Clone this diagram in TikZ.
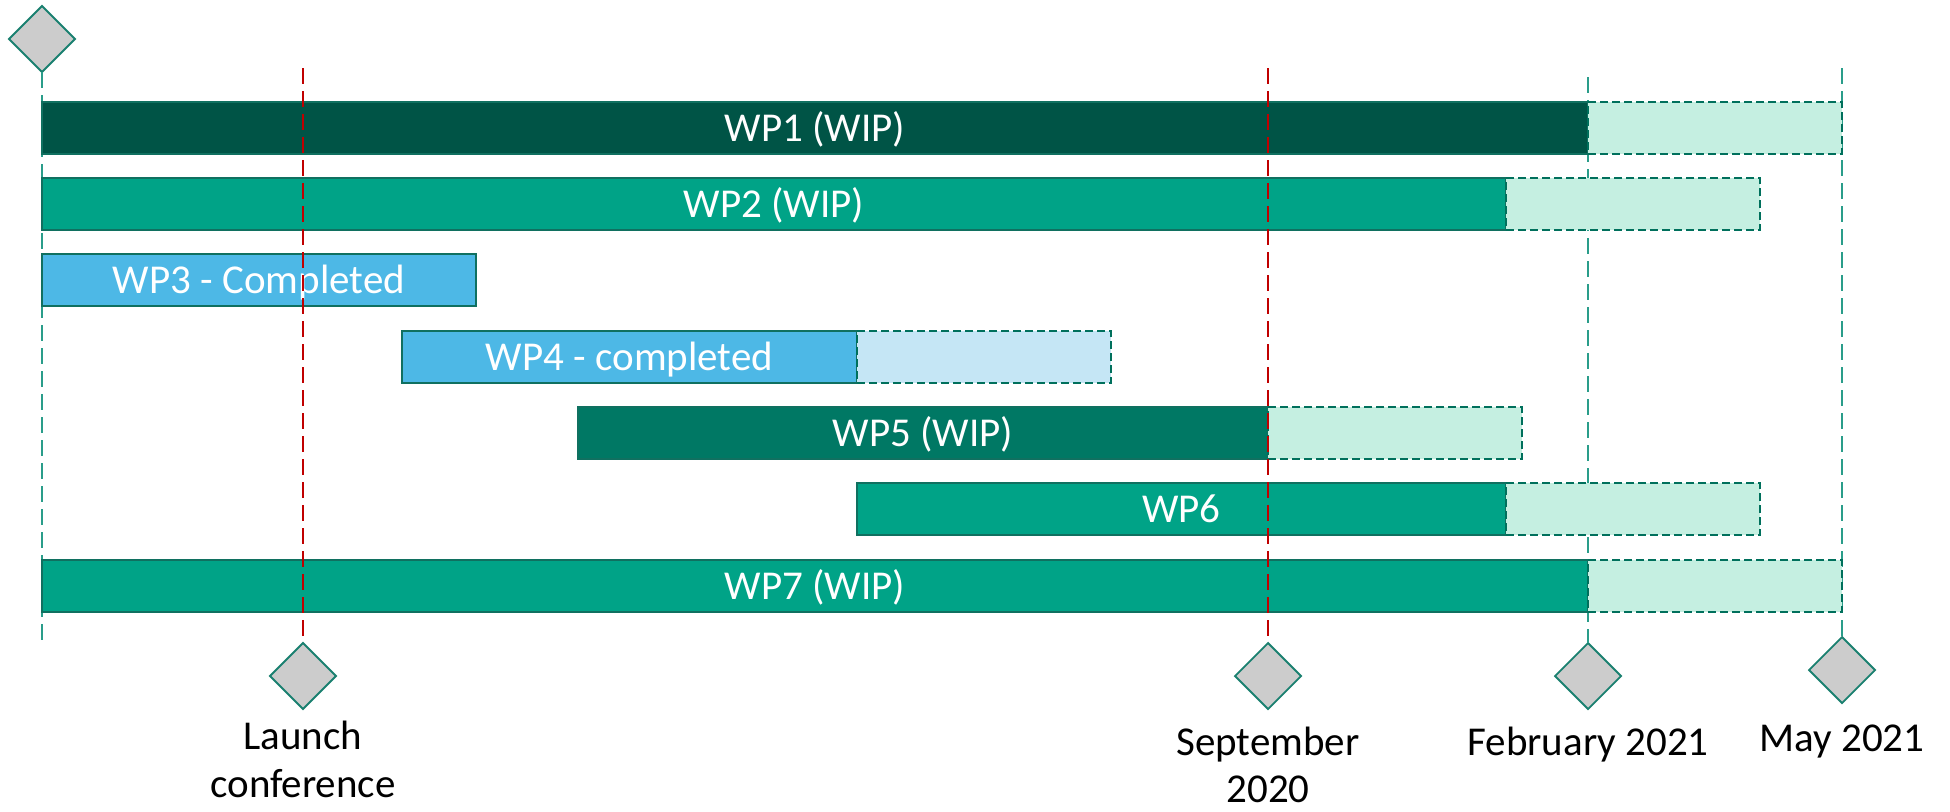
\documentclass[tikz,border=0pt]{standalone}
\usepackage{fontspec}
\setmainfont{Carlito}
\usetikzlibrary{shapes.geometric}
\definecolor{wpdark}{RGB}{0,84,70}
\definecolor{wpmid}{RGB}{0,120,100}
\definecolor{wpgreen}{RGB}{0,163,135}
\definecolor{wpblue}{RGB}{77,184,230}
\definecolor{extgreen}{RGB}{197,239,225}
\definecolor{extblue}{RGB}{197,230,245}
\definecolor{barline}{RGB}{16,112,96}
\definecolor{extline}{RGB}{0,112,92}
\definecolor{msgray}{RGB}{204,204,204}
\definecolor{msline}{RGB}{26,128,112}
\definecolor{redc}{RGB}{192,0,0}
\definecolor{tealc}{RGB}{42,157,138}
\begin{document}
\begin{tikzpicture}[x=1pt,y=-1pt,
  solidbar/.style={draw=barline, line width=1.5pt, anchor=north west, minimum height=52pt, inner sep=0pt, outer sep=0pt},
  extbar/.style={draw=extline, dash pattern=on 8pt off 4pt, line width=2.2pt, fill=extgreen, anchor=north west, minimum height=52pt, inner sep=0pt, outer sep=0pt},
  milestone/.style={diamond, draw=msline, fill=msgray, line width=1.8pt, minimum width=66pt, minimum height=66pt, inner sep=0pt, outer sep=0pt},
  barlabel/.style={text=white, font=\fontsize{41}{48}\selectfont, text height=27pt, text depth=0pt, inner sep=0pt},
  mslabel/.style={font=\fontsize{41}{48}\selectfont, anchor=base, inner sep=0pt},
  redline/.style={draw=redc, line width=2pt, dash pattern=on 16pt off 7pt},
  tealline/.style={draw=tealc, line width=2pt, dash pattern=on 16pt off 7pt}]
\useasboundingbox (0,0) rectangle (1950,811);

% milestones
\node[milestone] (start) at (42,39) {};
\node[milestone] (launch) at (303,676) {};
\node[milestone] (sept) at (1268,676) {};
\node[milestone] (feb) at (1588,676) {};
\node[milestone] (may) at (1842,670) {};

\coordinate (startend) at (42,640);
\coordinate (launchtop) at (303,68);
\coordinate (septtop) at (1268,68);
\coordinate (febtop) at (1588,77);
\coordinate (maytop) at (1842,68);

% teal lines (behind bars)
\draw[tealline] (start.south) -- (startend);
\draw[tealline] (febtop) -- (feb.north);
\draw[tealline] (maytop) -- (may.north);

% bars
\node[solidbar, fill=wpdark, minimum width=1546pt] (wp1) at (42,102) {};
\node[extbar, minimum width=254pt] (wp1x) at (1588,102) {};
\node[barlabel] (wp1l) at (wp1.center) {WP1 (WIP)};

\node[solidbar, fill=wpgreen, minimum width=1464pt] (wp2) at (42,178) {};
\node[extbar, minimum width=254pt] (wp2x) at (1506,178) {};
\node[barlabel] (wp2l) at (wp2.center) {WP2 (WIP)};

\node[solidbar, fill=wpblue, minimum width=434pt] (wp3) at (42,254) {};
\node[barlabel] (wp3l) at (wp3.center) {WP3 - Completed};

\node[solidbar, fill=wpblue, minimum width=455pt] (wp4) at (402,331) {};
\node[extbar, fill=extblue, minimum width=254pt] (wp4x) at (857,331) {};
\node[barlabel] (wp4l) at (wp4.center) {WP4 - completed};

\node[solidbar, fill=wpmid, minimum width=690pt] (wp5) at (578,407) {};
\node[extbar, minimum width=254pt] (wp5x) at (1268,407) {};
\node[barlabel] (wp5l) at (wp5.center) {WP5 (WIP)};

\node[solidbar, fill=wpgreen, minimum width=649pt] (wp6) at (857,483) {};
\node[extbar, minimum width=254pt] (wp6x) at (1506,483) {};
\node[barlabel] (wp6l) at (wp6.center) {WP6};

\node[solidbar, fill=wpgreen, minimum width=1546pt] (wp7) at (42,560) {};
\node[extbar, minimum width=254pt] (wp7x) at (1588,560) {};
\node[barlabel] (wp7l) at (wp7.center) {WP7 (WIP)};

% red lines (on top)
\draw[redline] (launchtop) -- (launch.north);
\draw[redline] (septtop) -- (sept.north);

% milestone labels
\node[mslabel] (launchl1) at (303,749) {Launch};
\node[mslabel] (launchl2) at (303,797) {conference};
\node[mslabel] (septl1) at (1268,755) {September};
\node[mslabel] (septl2) at (1268,802) {2020};
\node[mslabel] (febl) at (1588,755) {February 2021};
\node[mslabel] (mayl) at (1842,751) {May 2021};
\end{tikzpicture}
\end{document}
